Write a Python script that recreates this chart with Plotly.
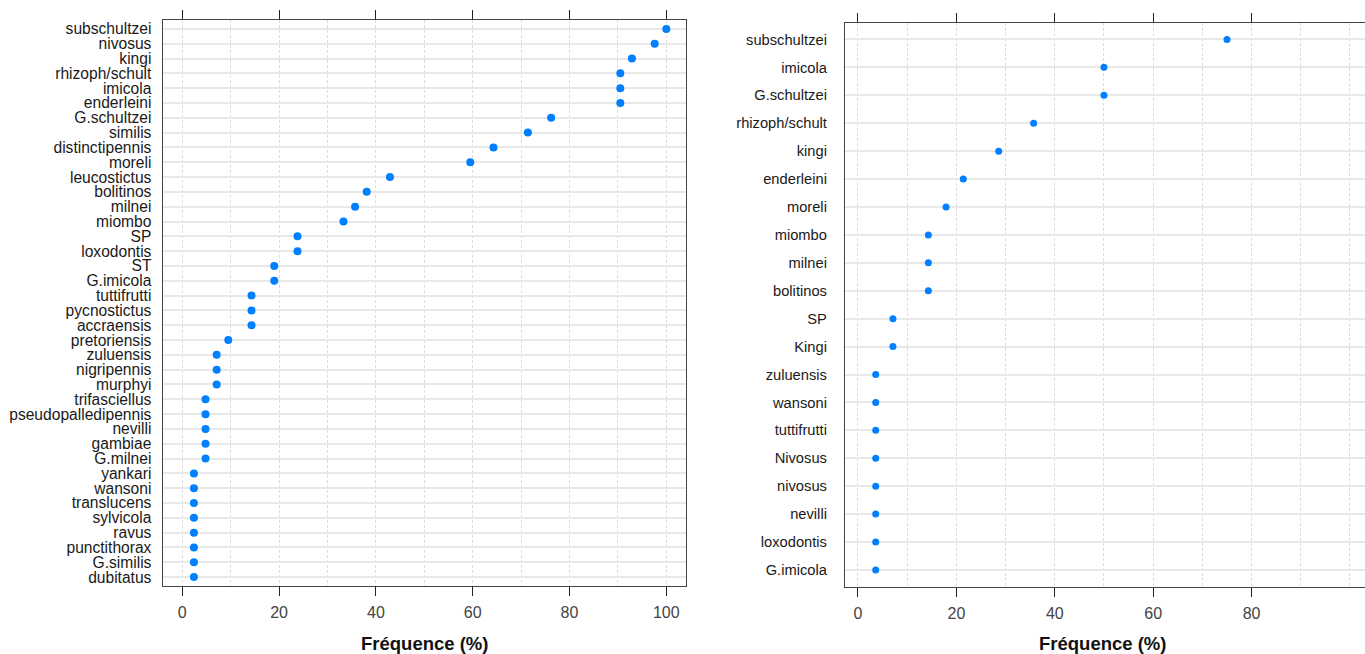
import plotly.graph_objects as go

# Panel A: species frequencies (%), listed from top to bottom
species_a = [
    "subschultzei", "nivosus", "kingi", "rhizoph/schult", "imicola", "enderleini",
    "G.schultzei", "similis", "distinctipennis", "moreli", "leucostictus", "bolitinos",
    "milnei", "miombo", "SP", "loxodontis", "ST", "G.imicola", "tuttifrutti",
    "pycnostictus", "accraensis", "pretoriensis", "zuluensis", "nigripennis", "murphyi",
    "trifasciellus", "pseudopalledipennis", "nevilli", "gambiae", "G.milnei", "yankari",
    "wansoni", "translucens", "sylvicola", "ravus", "punctithorax", "G.similis", "dubitatus",
]
freq_a = [
    100.0, 97.6, 92.9, 90.5, 90.5, 90.5, 76.2, 71.4, 64.3, 59.5, 42.9, 38.1, 35.7, 33.3,
    23.8, 23.8, 19.0, 19.0, 14.3, 14.3, 14.3, 9.5, 7.1, 7.1, 7.1, 4.8, 4.8, 4.8, 4.8, 4.8,
    2.4, 2.4, 2.4, 2.4, 2.4, 2.4, 2.4, 2.4,
]

# Panel B: species frequencies (%), listed from top to bottom
species_b = [
    "subschultzei", "imicola", "G.schultzei", "rhizoph/schult", "kingi", "enderleini",
    "moreli", "miombo", "milnei", "bolitinos", "SP", "Kingi", "zuluensis", "wansoni",
    "tuttifrutti", "Nivosus", "nivosus", "nevilli", "loxodontis", "G.imicola",
]
freq_b = [
    75.0, 50.0, 50.0, 35.7, 28.6, 21.4, 17.9, 14.3, 14.3, 14.3, 7.1, 7.1,
    3.6, 3.6, 3.6, 3.6, 3.6, 3.6, 3.6, 3.6,
]

ticks_a = [0, 20, 40, 60, 80, 100]
ticks_b = [0, 20, 40, 60, 80]
minor_a = [10, 30, 50, 70, 90]
minor_b = [10, 30, 50, 70, 90, 100]

FONT = "Liberation Sans"
DOT = "#0080ff"
VGRID = "#dcdcdc"
W, H = 1365, 654

fig = go.Figure()
fig.add_trace(go.Scatter(
    x=freq_a, y=species_a, mode="markers", xaxis="x", yaxis="y",
    marker=dict(color=DOT, size=8), showlegend=False,
))
fig.add_trace(go.Scatter(
    x=freq_b, y=species_b, mode="markers", xaxis="x2", yaxis="y2",
    marker=dict(color=DOT, size=7), showlegend=False,
))


def xaxis(domain, rng, ticks, minor, anchor):
    return dict(
        domain=domain, range=rng, anchor=anchor,
        tickmode="array", tickvals=ticks, ticktext=[str(t) for t in ticks],
        ticks="outside", ticklen=9, tickwidth=1, tickcolor="#222",
        ticklabelstandoff=3,
        showline=True, linecolor="#444", linewidth=1.3, mirror="allticks",
        showgrid=True, gridcolor=VGRID, gridwidth=1, griddash="3px,2px",
        minor=dict(tickmode="array", tickvals=minor, showgrid=True,
                   gridcolor=VGRID, gridwidth=1, griddash="3px,2px", ticks=""),
        zeroline=False,
        tickfont=dict(family=FONT, size=16, color="#444"),
    )


def yaxis(domain, cats, anchor, mirror, size, gap):
    return dict(
        domain=domain, anchor=anchor,
        type="category", categoryorder="array", categoryarray=cats[::-1],
        tickmode="linear", tick0=0, dtick=1,
        range=[-0.6, len(cats) - 0.4],
        ticks="outside", ticklen=gap, tickcolor="rgba(0,0,0,0)",
        showline=True, linecolor="#444", linewidth=1.3, mirror=mirror,
        showgrid=True, gridcolor="#e8e8e8", gridwidth=1.6,
        zeroline=False,
        tickfont=dict(family=FONT, size=size, color="#1a1a1a"),
    )


title_font = dict(family=FONT, size=18.5, color="#111", weight="bold")

fig.update_layout(
    width=W, height=H,
    margin=dict(l=0, r=0, t=0, b=0),
    paper_bgcolor="white", plot_bgcolor="white",
    xaxis=xaxis([162.7 / W, 686 / W], [-4.05, 104.07], ticks_a, minor_a, "y"),
    yaxis=yaxis([(H - 586) / H, (H - 20) / H], species_a, "x", True, 15.6, 7),
    xaxis2=xaxis([845 / W, 1.0], [-2.64, 103.05], ticks_b, minor_b, "y2"),
    yaxis2=yaxis([(H - 586.7) / H, (H - 22.7) / H], species_b, "x2", False, 14.7, 14),
    annotations=[
        dict(text="Fréquence (%)", xref="paper", yref="paper",
             x=424 / W, y=(H - 643) / H, xanchor="center", yanchor="middle",
             showarrow=False, font=title_font),
        dict(text="Fréquence (%)", xref="paper", yref="paper",
             x=1102 / W, y=(H - 643) / H, xanchor="center", yanchor="middle",
             showarrow=False, font=title_font),
    ],
)

fig.write_html("out.html")
